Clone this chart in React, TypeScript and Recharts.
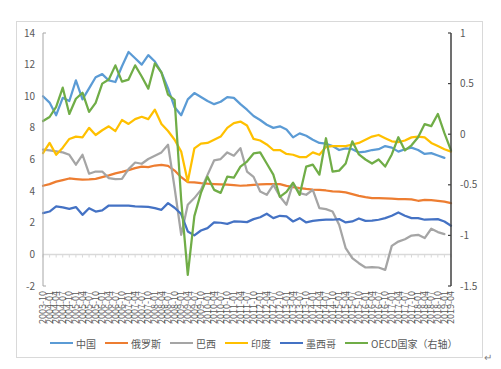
import React from 'react';
import { LineChart, Line, XAxis, YAxis, ReferenceLine } from 'recharts';

const categories = [
  '2003-10',
  '2004-01', '2004-04', '2004-07', '2004-10',
  '2005-01', '2005-04', '2005-07', '2005-10',
  '2006-01', '2006-04', '2006-07', '2006-10',
  '2007-01', '2007-04', '2007-07', '2007-10',
  '2008-01', '2008-04', '2008-07', '2008-10',
  '2009-01', '2009-04', '2009-07', '2009-10',
  '2010-01', '2010-04', '2010-07', '2010-10',
  '2011-01', '2011-04', '2011-07', '2011-10',
  '2012-01', '2012-04', '2012-07', '2012-10',
  '2013-01', '2013-04', '2013-07', '2013-10',
  '2014-01', '2014-04', '2014-07', '2014-10',
  '2015-01', '2015-04', '2015-07', '2015-10',
  '2016-01', '2016-04', '2016-07', '2016-10',
  '2017-01', '2017-04', '2017-07', '2017-10',
  '2018-01', '2018-04', '2018-07', '2018-10',
  '2019-01', '2019-04',
];

const china = [
  10.0, 9.6, 8.8, 9.9, 9.7, 11.0, 9.8, 10.5, 11.2, 11.4,
  11.0, 10.9, 11.9, 12.8, 12.4, 12.0, 12.6, 12.2, 11.5, 10.5,
  9.3, 8.8, 9.8, 10.2, 9.95, 9.7, 9.5, 9.65, 9.95, 9.9,
  9.5, 9.15, 8.75, 8.5, 8.2, 8.0, 8.1, 7.9, 7.4, 7.65,
  7.5, 7.25, 7.05, 7.0, 6.85, 6.6, 6.7, 6.65, 6.45, 6.5,
  6.6, 6.65, 6.85, 6.75, 6.5, 6.65, 6.75, 6.6, 6.35, 6.4,
  6.25, 6.1, null,
];

const russia = [
  4.34, 4.44, 4.6, 4.7, 4.8, 4.76, 4.72, 4.74, 4.78, 4.89,
  5.0, 5.12, 5.22, 5.33, 5.45, 5.55, 5.52, 5.62, 5.66, 5.6,
  5.3, 4.88, 4.57, 4.56, 4.51, 4.47, 4.45, 4.43, 4.41, 4.38,
  4.34, 4.36, 4.4, 4.42, 4.44, 4.45, 4.44, 4.33, 4.25, 4.19,
  4.14, 4.1, 4.08, 4.04, 3.98, 3.97, 3.92, 3.81, 3.7, 3.62,
  3.56, 3.55, 3.54, 3.52, 3.49, 3.49, 3.48, 3.39, 3.44, 3.43,
  3.39, 3.33, 3.24,
];

const brazil = [
  6.62, 6.57, 6.51, 6.45, 6.3, 5.67, 6.3, 5.1, 5.24, 5.24,
  4.82, 4.76, 4.78, 5.39, 5.81, 5.73, 6.03, 6.24, 6.45, 6.93,
  4.2, 1.24, 3.14, 3.56, 4.08, 5.03, 5.94, 6.03, 6.45, 6.24,
  6.72, 5.24, 4.9, 3.98, 3.77, 4.4, 3.66, 3.14, 4.51, 3.87,
  3.77, 4.08, 2.92, 2.86, 2.71, 1.87, 0.39, -0.24, -0.56, -0.83,
  -0.8, -0.83, -0.98, 0.54, 0.81, 0.96, 1.19, 1.24, 1.03, 1.62,
  1.41, 1.28, null,
];

const india = [
  6.4, 7.05, 6.3, 6.75, 7.3, 7.45, 7.4, 8.0, 7.55, 7.85,
  8.1, 7.8, 8.5, 8.25, 8.55, 8.7, 8.55, 9.15, 8.25, 7.8,
  7.25, 6.5, 4.6, 6.7, 7.0, 7.05, 7.25, 7.45, 8.0, 8.3,
  8.4, 8.15, 7.3, 7.2, 6.95, 6.6, 6.6, 6.35, 6.3, 6.15,
  6.15, 6.45, 6.3, 6.8, 6.85, 6.85, 6.85, 6.95, 7.05, 7.25,
  7.45, 7.55, 7.35, 7.15, 7.1, 7.2, 7.4, 7.45, 7.4, 7.05,
  6.85, 6.65, 6.5,
];

const mexico = [
  2.61, 2.71, 3.03, 2.97, 2.88, 2.99, 2.5, 2.92, 2.71, 2.78,
  3.09, 3.09, 3.09, 3.08, 3.03, 3.02, 3.0, 2.92, 2.82, 3.24,
  2.95, 2.55, 1.45, 1.2, 1.51, 1.66, 2.02, 2.0, 1.93, 2.08,
  2.07, 2.04, 2.23, 2.35, 2.57, 2.29, 2.44, 2.4, 2.08, 2.29,
  2.02, 2.12, 2.17, 2.19, 2.19, 2.23, 2.02, 2.08, 2.27, 2.12,
  2.13, 2.19, 2.29, 2.44, 2.65, 2.44, 2.29, 2.29, 2.19, 2.22,
  2.23, 2.08, 1.81,
];

const oecd = [
  0.13, 0.17, 0.27, 0.46, 0.2, 0.35, 0.41, 0.22, 0.31, 0.5,
  0.54, 0.68, 0.52, 0.54, 0.68, 0.57, 0.45, 0.7, 0.61, 0.39,
  0.34, -0.65, -1.39, -0.81, -0.58, -0.42, -0.55, -0.58, -0.42, -0.43,
  -0.32, -0.27, -0.19, -0.18, -0.29, -0.4, -0.62, -0.57, -0.48, -0.6,
  -0.32, -0.3, -0.4, -0.04, -0.37, -0.36, -0.29, -0.07, -0.2, -0.25,
  -0.29, -0.25, -0.32, -0.2, -0.03, -0.16, -0.11, -0.03, 0.1, 0.08,
  0.2, 0.01, -0.16,
];

const leftTicks = [-2, 0, 2, 4, 6, 8, 10, 12, 14];
const rightTicks = [-1.5, -1, -0.5, 0, 0.5, 1];

const seriesKeys = ['china', 'russia', 'brazil', 'india', 'mexico', 'oecd'];
const seriesNames = ['中国', '俄罗斯', '巴西', '印度', '墨西哥', 'OECD国家（右轴）'];
const seriesColors = ['#5B9BD5', '#ED7D31', '#A5A5A5', '#FFC000', '#4472C4', '#70AD47'];
const seriesAxis = ['left', 'left', 'left', 'left', 'left', 'right'];

const data = categories.map((c, i) => ({
  date: c,
  china: china[i],
  russia: russia[i],
  brazil: brazil[i],
  india: india[i],
  mexico: mexico[i],
  oecd: oecd[i],
}));

const FONT = '"Noto Sans CJK SC", "Noto Sans", sans-serif';
const TEXT = '#595959';

const LeftTick = (props: any) => {
  const { x, y, payload } = props;
  const axisX = x + 8;
  const isEnd = payload.value === leftTicks[0] || payload.value === leftTicks[leftTicks.length - 1];
  return (
    <g>
      {isEnd && <line x1={axisX} x2={axisX + 3} y1={y} y2={y} stroke="#A6A6A6" strokeWidth={1} />}
      <text x={x} y={y} dy="0.35em" textAnchor="end" fontSize={10} fill={TEXT} fontFamily={FONT}>
        {payload.value}
      </text>
    </g>
  );
};

const RightTick = (props: any) => {
  const { x, y, payload } = props;
  const axisX = x - 9;
  return (
    <g>
      <line x1={axisX} x2={axisX - 3} y1={y} y2={y} stroke="#404040" strokeWidth={1.2} />
      <text x={x} y={y} dy="0.35em" textAnchor="start" fontSize={10} fill={TEXT} fontFamily={FONT}>
        {payload.value}
      </text>
    </g>
  );
};

const XTick = (props: any) => {
  const { x, y, payload } = props;
  return (
    <text
      transform={`translate(${x},${y}) rotate(-90)`}
      dy="0.35em"
      textAnchor="end"
      fontSize={9}
      fill={TEXT}
      fontFamily={FONT}
    >
      {payload.value}
    </text>
  );
};

export default function App() {
  return (
    <div style={{ position: 'absolute', left: 0, top: 0, width: 501, height: 369, background: '#fff' }}>
      <div
        style={{
          position: 'absolute',
          left: 16,
          top: 21,
          width: 467,
          height: 337,
          border: '1px solid #D9D9D9',
          boxSizing: 'border-box',
        }}
      />
      <div style={{ position: 'absolute', left: 0, top: 0 }}>
        <LineChart width={501} height={369} data={data} margin={{ top: 33, right: 10, left: 13, bottom: 43 }}>
          <XAxis
            dataKey="date"
            interval={0}
            axisLine={false}
            tickLine={false}
            tickSize={5}
            tickMargin={0}
            height={40}
            tick={<XTick />}
          />
          <YAxis
            yAxisId="left"
            orientation="left"
            width={30}
            domain={[-2, 14]}
            ticks={leftTicks}
            interval={0}
            axisLine={{ stroke: '#A6A6A6', strokeWidth: 1 }}
            tickLine={false}
            tickSize={8}
            tickMargin={0}
            tick={<LeftTick />}
          />
          <YAxis
            yAxisId="right"
            orientation="right"
            width={40}
            domain={[-1.5, 1]}
            ticks={rightTicks}
            interval={0}
            axisLine={{ stroke: '#404040', strokeWidth: 1.5 }}
            tickLine={false}
            tickSize={9}
            tickMargin={0}
            tick={<RightTick />}
          />
          <ReferenceLine yAxisId="left" y={0} stroke="#D9D9D9" strokeWidth={1.5} />
          {categories.map((c) => (
            <ReferenceLine
              key={'t' + c}
              yAxisId="left"
              segment={[{ x: c, y: 0 }, { x: c, y: -0.2 }]}
              stroke="#D9D9D9"
              strokeWidth={1}
            />
          ))}
          {seriesKeys.map((k, i) => (
            <Line
              key={k}
              yAxisId={seriesAxis[i]}
              type="linear"
              dataKey={k}
              name={seriesNames[i]}
              stroke={seriesColors[i]}
              strokeWidth={2.25}
              strokeLinejoin="round"
              strokeLinecap="round"
              dot={false}
              activeDot={false}
              isAnimationActive={false}
            />
          ))}
        </LineChart>
      </div>
      <div
        style={{
          position: 'absolute',
          left: 50,
          top: 336,
          height: 14,
          display: 'flex',
          alignItems: 'center',
          fontFamily: FONT,
          fontSize: 10,
          color: TEXT,
          whiteSpace: 'nowrap',
        }}
      >
        {seriesNames.map((n, i) => (
          <div key={n} style={{ display: 'flex', alignItems: 'center', marginRight: 9 }}>
            <span style={{ display: 'inline-block', width: 23, height: 2, background: seriesColors[i], marginRight: 3 }} />
            <span>{n}</span>
          </div>
        ))}
      </div>
      <div
        style={{
          position: 'absolute',
          left: 484,
          top: 349,
          fontFamily: FONT,
          fontSize: 10,
          color: '#808080',
        }}
      >
        ↵
      </div>
    </div>
  );
}
